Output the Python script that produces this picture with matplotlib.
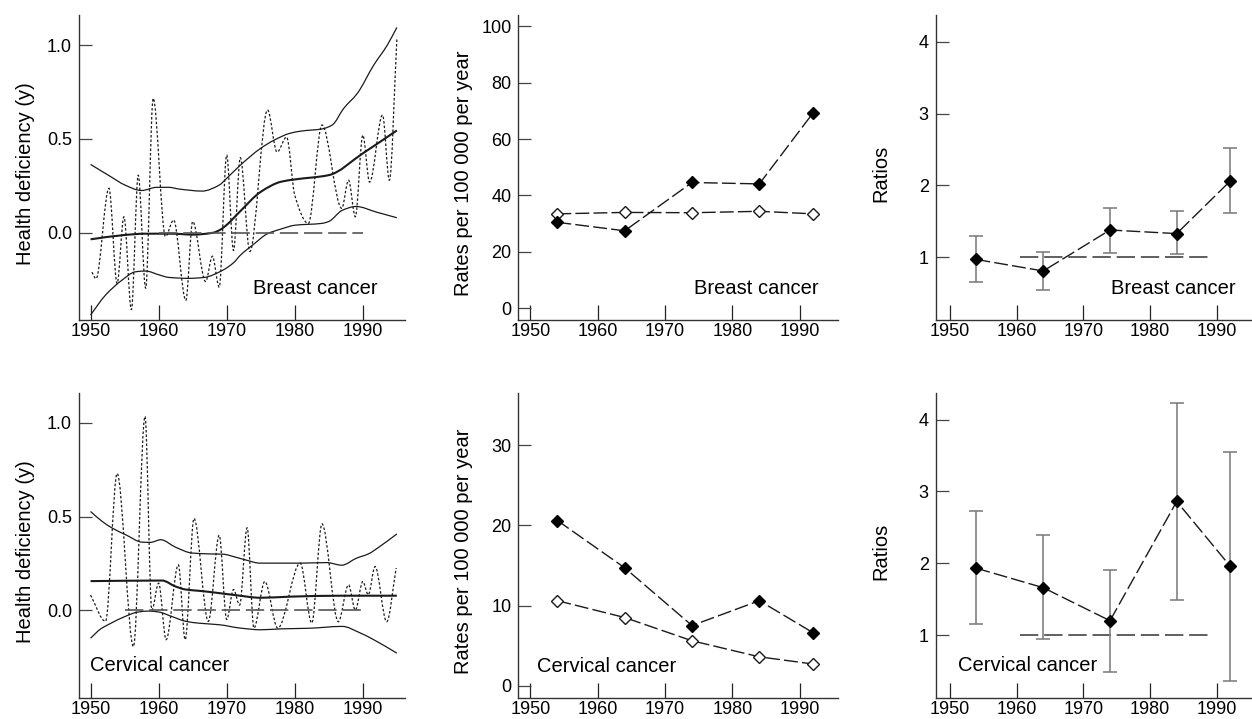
import matplotlib
matplotlib.use("Agg")
import matplotlib.pyplot as plt
import numpy as np
from matplotlib.path import Path
from matplotlib.patches import PathPatch

plt.rcParams["font.family"] = ["Liberation Sans", "DejaVu Sans"]

# ---- left column: health deficiency (knots read at peaks / troughs) ----
BREAST_DEF_YEARS = [1950.2, 1950.8, 1952.7, 1953.9, 1954.9, 1956.0, 1957.0, 1958.1, 1959.2,
                    1961.0, 1962.2, 1964.0, 1965.0, 1966.9, 1967.9, 1968.9, 1970.0, 1971.0,
                    1972.0, 1973.4, 1976.0, 1977.4, 1978.8, 1980.0, 1982.0, 1984.0, 1986.9,
                    1987.9, 1988.9, 1990.0, 1991.0, 1992.9, 1993.9, 1995.0]
BREAST_DEF_VALS = [-0.21, -0.245, 0.237, -0.27, 0.085, -0.41, 0.307, -0.296, 0.716,
                   -0.02, 0.068, -0.36, 0.06, -0.26, -0.125, -0.29, 0.414, -0.095,
                   0.40, -0.10, 0.654, 0.43, 0.51, 0.20, 0.05, 0.574, 0.13,
                   0.28, 0.085, 0.52, 0.27, 0.627, 0.28, 1.03]

BREAST_TREND_YEARS = [1950, 1955, 1958, 1962, 1965, 1968, 1969, 1970, 1972, 1975, 1978,
                      1980, 1985, 1990, 1995]
BREAST_TREND_VALS = [-0.035, -0.012, -0.005, -0.005, -0.01, 0.0, 0.015, 0.042, 0.115,
                     0.218, 0.272, 0.284, 0.307, 0.423, 0.545]

BREAST_UPPER_YEARS = [1950, 1953, 1955, 1957.5, 1959.7, 1961.5, 1963, 1966.4, 1968.9, 1970,
                      1972, 1975, 1977, 1979.3, 1981, 1984, 1985.5, 1987.2, 1989.2, 1991.6,
                      1993.6, 1995]
BREAST_UPPER_VALS = [0.364, 0.298, 0.255, 0.225, 0.242, 0.242, 0.233, 0.222, 0.254, 0.29,
                     0.36, 0.45, 0.494, 0.53, 0.542, 0.553, 0.574, 0.663, 0.743, 0.893,
                     1.0, 1.094]

BREAST_LOWER_YEARS = [1950, 1952.2, 1954.6, 1956.6, 1958.1, 1960.1, 1961.5, 1964.5, 1966.7,
                      1969.4, 1971, 1972, 1974, 1976, 1978, 1980, 1984, 1985, 1987, 1989,
                      1992, 1995]
BREAST_LOWER_VALS = [-0.438, -0.332, -0.253, -0.208, -0.204, -0.225, -0.238, -0.243, -0.238,
                     -0.2, -0.16, -0.12, -0.06, -0.005, 0.02, 0.04, 0.05, 0.06, 0.12, 0.14,
                     0.11, 0.08]

CERV_DEF_YEARS = [1950.0, 1952.2, 1953.9, 1956.3, 1958.0, 1959.0, 1960.0, 1961.1, 1962.9,
                  1963.9, 1965.2, 1967.3, 1968.9, 1970.0, 1971.0, 1971.9, 1973.0, 1974.0,
                  1975.6, 1977.5, 1980.8, 1982.5, 1984.0, 1986.4, 1987.9, 1988.9, 1990.0,
                  1990.8, 1991.8, 1993.5, 1994.9]
CERV_DEF_VALS = [0.08, -0.06, 0.73, -0.195, 1.035, 0.0, 0.144, -0.158, 0.242,
                 -0.158, 0.49, -0.06, 0.40, -0.05, 0.11, 0.027, 0.44, -0.096,
                 0.153, -0.096, 0.251, -0.069, 0.461, -0.062, 0.135, 0.0, 0.153,
                 0.082, 0.233, -0.062, 0.225]

CERV_TREND_YEARS = [1950, 1960.5, 1962.5, 1964, 1966, 1968, 1971.3, 1975, 1979.3, 1986.7, 1995]
CERV_TREND_VALS = [0.155, 0.158, 0.126, 0.11, 0.103, 0.095, 0.08, 0.066, 0.072, 0.077, 0.077]

CERV_UPPER_YEARS = [1950, 1951.7, 1953.2, 1955.2, 1957.6, 1958.8, 1960.3, 1962.5, 1964.9,
                    1967.9, 1969.4, 1971.3, 1972.7, 1974.9, 1980.8, 1984.7, 1986.9, 1989.1,
                    1990.8, 1992.5, 1995]
CERV_UPPER_VALS = [0.527, 0.474, 0.438, 0.402, 0.363, 0.362, 0.376, 0.336, 0.305,
                   0.30, 0.299, 0.283, 0.269, 0.251, 0.251, 0.254, 0.24, 0.278,
                   0.30, 0.34, 0.407]

CERV_LOWER_YEARS = [1950, 1951.5, 1953, 1955, 1957, 1958.5, 1960, 1962, 1964, 1966, 1968.9,
                    1972, 1975, 1978, 1982, 1987, 1989.5, 1991.6, 1995]
CERV_LOWER_VALS = [-0.15, -0.1, -0.07, -0.035, -0.01, -0.005, -0.01, -0.035, -0.06, -0.07,
                   -0.078, -0.096, -0.105, -0.1, -0.097, -0.087, -0.12, -0.158, -0.23]

BREAST_ZERO_SPAN = [1960, 1990]
CERV_ZERO_SPAN = [1955, 1990]

# ---- middle column: rates per 100 000 per year ----
PERIOD_YEARS = [1954, 1964, 1974, 1984, 1992]
BREAST_RATE_FILLED = [30.5, 27.5, 44.6, 44.1, 69.3]
BREAST_RATE_OPEN = [33.5, 34.0, 33.9, 34.4, 33.5]
CERV_RATE_FILLED = [20.6, 14.7, 7.5, 10.6, 6.6]
CERV_RATE_OPEN = [10.6, 8.5, 5.6, 3.6, 2.7]

# ---- right column: ratios with confidence limits ----
BREAST_RATIO = [0.97, 0.81, 1.38, 1.33, 2.06]
BREAST_RATIO_LO = [0.65, 0.55, 1.06, 1.04, 1.62]
BREAST_RATIO_HI = [1.30, 1.08, 1.69, 1.64, 2.52]
CERV_RATIO = [1.93, 1.66, 1.20, 2.86, 1.96]
CERV_RATIO_LO = [1.15, 0.94, 0.48, 1.49, 0.36]
CERV_RATIO_HI = [2.73, 2.40, 1.90, 4.23, 3.55]
RATIO_REF_SPAN = [1960.5, 1989]

DARK = "#1a1a1a"
REF_DASH = (0, (11, 3.5))
CONN_DASH = (0, (10, 3))


def smooth_path(x, y):
    """Cubic Bezier path through knots, shape-preserving tangents."""
    x = np.asarray(x, float)
    y = np.asarray(y, float)
    h = np.diff(x)
    d = np.diff(y) / h
    m = np.zeros_like(y)
    for i in range(1, len(y) - 1):
        if d[i - 1] * d[i] > 0:
            w1 = 2 * h[i] + h[i - 1]
            w2 = h[i] + 2 * h[i - 1]
            m[i] = (w1 + w2) / (w1 / d[i - 1] + w2 / d[i])
    m[0] = d[0]
    m[-1] = d[-1]
    verts = [(x[0], y[0])]
    codes = [Path.MOVETO]
    for i in range(len(h)):
        verts += [(x[i] + h[i] / 3, y[i] + m[i] * h[i] / 3),
                  (x[i + 1] - h[i] / 3, y[i + 1] - m[i + 1] * h[i] / 3),
                  (x[i + 1], y[i + 1])]
        codes += [Path.CURVE4] * 3
    return Path(verts, codes)


def add_curve(ax, x, y, **kw):
    ax.add_patch(PathPatch(smooth_path(x, y), fill=False, transform=ax.transData, **kw))


def style_axes(ax, xlim, ylim, yticks, yfmt, ylabel):
    for side in ("top", "right"):
        ax.spines[side].set_visible(False)
    for side in ("left", "bottom"):
        ax.spines[side].set_color("#333333")
        ax.spines[side].set_linewidth(1.0)
    ax.set_xlim(*xlim)
    ax.set_ylim(*ylim)
    ax.set_xticks([1950, 1960, 1970, 1980, 1990])
    ax.set_yticks(yticks)
    ax.set_yticklabels([yfmt.format(v) for v in yticks])
    ax.tick_params(axis="x", direction="in", length=10.5, width=0.9, pad=2.5,
                   labelsize=13, color="#222222")
    ax.tick_params(axis="y", direction="in", length=9.5, width=0.9, pad=5,
                   labelsize=13, color="#444444")
    ax.set_ylabel(ylabel, fontsize=14.5)


def deficiency_panel(ax, d_years, d_vals, t_years, t_vals, u_years, u_vals,
                     l_years, l_vals, zero_span, ylim):
    ax.plot(zero_span, [0, 0], color="#555555", lw=1.2, ls=REF_DASH)
    add_curve(ax, d_years, d_vals, color=DARK, lw=0.9, ls=(0, (2, 1.6)))
    add_curve(ax, u_years, u_vals, color=DARK, lw=0.9)
    add_curve(ax, l_years, l_vals, color=DARK, lw=0.9)
    add_curve(ax, t_years, t_vals, color=DARK, lw=1.5)
    style_axes(ax, (1948.3, 1996.2), ylim, [0.0, 0.5, 1.0], "{:.1f}",
               "Health deficiency (y)")
    ax.yaxis.set_label_coords(-0.135, 0.48)


def rate_panel(ax, filled, opened, ylim, yticks):
    ax.plot(PERIOD_YEARS, opened, color=DARK, lw=1.0, ls=CONN_DASH, marker="D", ms=6,
            mfc="white", mec=DARK, mew=1.0)
    ax.plot(PERIOD_YEARS, filled, color=DARK, lw=1.0, ls=CONN_DASH, marker="D", ms=6,
            mfc="black", mec="black")
    style_axes(ax, (1948.2, 1995.7), ylim, yticks, "{:d}", "Rates per 100 000 per year")
    ax.yaxis.set_label_coords(-0.142, 0.48)


def ratio_panel(ax, ratio, lo, hi):
    ax.plot(RATIO_REF_SPAN, [1, 1], color="#444444", lw=1.2, ls=REF_DASH)
    r = np.asarray(ratio)
    yerr = [r - np.asarray(lo), np.asarray(hi) - r]
    ax.errorbar(PERIOD_YEARS, r, yerr=yerr, fmt="none", ecolor="#777777",
                elinewidth=1.1, capsize=5, capthick=1.1)
    ax.plot(PERIOD_YEARS, r, color=DARK, lw=1.0, ls=CONN_DASH, marker="D", ms=6,
            mfc="black", mec="black")
    style_axes(ax, (1947.9, 1995.2), (0.128, 4.37), [1, 2, 3, 4], "{:d}", "Ratios")
    ax.yaxis.set_label_coords(-0.145, 0.48)


fig = plt.figure(figsize=(12.52, 7.19), dpi=100)
cols = [(0.0631, 0.2604), (0.4140, 0.2554), (0.7474, 0.2522)]
rows = [(0.5549, 0.4242), (0.0296, 0.4238)]

ax = fig.add_axes([cols[0][0], rows[0][0], cols[0][1], rows[0][1]])
deficiency_panel(ax, BREAST_DEF_YEARS, BREAST_DEF_VALS, BREAST_TREND_YEARS, BREAST_TREND_VALS,
                 BREAST_UPPER_YEARS, BREAST_UPPER_VALS, BREAST_LOWER_YEARS, BREAST_LOWER_VALS,
                 BREAST_ZERO_SPAN, (-0.465, 1.16))
ax.text(0.917, 0.105, "Breast cancer", transform=ax.transAxes, ha="right", va="center",
        fontsize=14.5)

ax = fig.add_axes([cols[0][0], rows[1][0], cols[0][1], rows[1][1]])
deficiency_panel(ax, CERV_DEF_YEARS, CERV_DEF_VALS, CERV_TREND_YEARS, CERV_TREND_VALS,
                 CERV_UPPER_YEARS, CERV_UPPER_VALS, CERV_LOWER_YEARS, CERV_LOWER_VALS,
                 CERV_ZERO_SPAN, (-0.468, 1.16))
ax.text(0.034, 0.107, "Cervical cancer", transform=ax.transAxes, ha="left", va="center",
        fontsize=14.5)

ax = fig.add_axes([cols[1][0], rows[0][0], cols[1][1], rows[0][1]])
rate_panel(ax, BREAST_RATE_FILLED, BREAST_RATE_OPEN, (-4.1, 103.9), [0, 20, 40, 60, 80, 100])
ax.text(0.938, 0.105, "Breast cancer", transform=ax.transAxes, ha="right", va="center",
        fontsize=14.5)

ax = fig.add_axes([cols[1][0], rows[1][0], cols[1][1], rows[1][1]])
rate_panel(ax, CERV_RATE_FILLED, CERV_RATE_OPEN, (-1.5, 36.5), [0, 10, 20, 30])
ax.text(0.059, 0.104, "Cervical cancer", transform=ax.transAxes, ha="left", va="center",
        fontsize=14.5)

ax = fig.add_axes([cols[2][0], rows[0][0], cols[2][1], rows[0][1]])
ratio_panel(ax, BREAST_RATIO, BREAST_RATIO_LO, BREAST_RATIO_HI)
ax.text(0.949, 0.105, "Breast cancer", transform=ax.transAxes, ha="right", va="center",
        fontsize=14.5)

ax = fig.add_axes([cols[2][0], rows[1][0], cols[2][1], rows[1][1]])
ratio_panel(ax, CERV_RATIO, CERV_RATIO_LO, CERV_RATIO_HI)
ax.text(0.0715, 0.107, "Cervical cancer", transform=ax.transAxes, ha="left", va="center",
        fontsize=14.5)

fig.savefig("out.png", dpi=100)
